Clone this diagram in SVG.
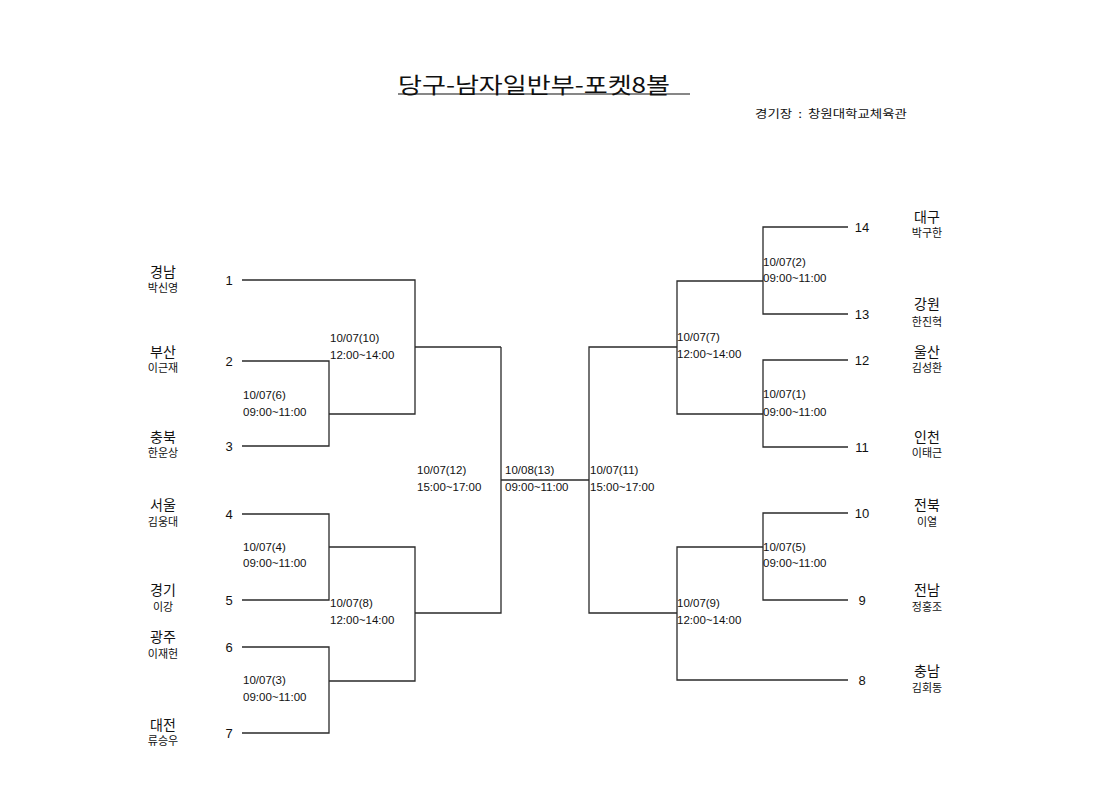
<svg xmlns="http://www.w3.org/2000/svg" width="1120" height="792" viewBox="0 0 1120 792">
<style>
.ln{fill:none;stroke:#2a2a2a;stroke-width:1.3}
text{font-family:"Liberation Sans","Noto Sans CJK KR",sans-serif;fill:#111}
.tm{font-family:"Noto Sans CJK KR","Liberation Sans",sans-serif;font-size:14px;text-anchor:middle}
.pl{font-family:"Noto Sans CJK KR","Liberation Sans",sans-serif;font-size:11px;text-anchor:middle}
.sd{font-size:13px;text-anchor:middle}
.mt{font-size:11.5px}
</style>
<rect width="1120" height="792" fill="#fff"/>
<g id="title">
<text x="398" y="93" font-size="22" textLength="272" lengthAdjust="spacingAndGlyphs" style="font-family:'Noto Sans CJK KR','Liberation Sans',sans-serif">당구-남자일반부-포켓8볼</text>
<line x1="398" y1="94" x2="690" y2="94" stroke="#111" stroke-width="1.2"/>
<text x="755" y="118" style="font-family:'Noto Sans CJK KR','Liberation Sans',sans-serif;font-size:11px;white-space:pre" textLength="152" lengthAdjust="spacingAndGlyphs">경기장  :  창원대학교체육관</text>
</g>
<g id="connectors" class="ln">
<path d="M242,280 H415 V414 H329"/>
<path d="M242,361 H329 V446 H242"/>
<path d="M415,347 H501"/>
<path d="M242,514 H329 V600 H242"/>
<path d="M329,547 H415 V681 H329"/>
<path d="M242,647 H329 V733 H242"/>
<path d="M415,613 H501 V347"/>
<path d="M501,480 H589"/>
<path d="M677,347 H589 V613 H677"/>
<path d="M763,281 H677 V414 H763"/>
<path d="M848,227 H763 V314 H848"/>
<path d="M848,360 H763 V447 H848"/>
<path d="M763,547 H677 V680 H848"/>
<path d="M848,513 H763 V600 H848"/>
</g>
<g id="team1"><text class="tm" x="163" y="277">경남</text><text class="pl" x="163" y="292">박신영</text><text class="sd" x="229" y="285">1</text></g>
<g id="team2"><text class="tm" x="163" y="357">부산</text><text class="pl" x="163" y="372">이근재</text><text class="sd" x="229" y="366">2</text></g>
<g id="team3"><text class="tm" x="163" y="442">충북</text><text class="pl" x="163" y="457">한운상</text><text class="sd" x="229" y="451">3</text></g>
<g id="team4"><text class="tm" x="163" y="510">서울</text><text class="pl" x="163" y="526">김웅대</text><text class="sd" x="229" y="519">4</text></g>
<g id="team5"><text class="tm" x="163" y="595">경기</text><text class="pl" x="163" y="611">이강</text><text class="sd" x="229" y="605">5</text></g>
<g id="team6"><text class="tm" x="163" y="642">광주</text><text class="pl" x="163" y="658">이재헌</text><text class="sd" x="229" y="652">6</text></g>
<g id="team7"><text class="tm" x="163" y="730">대전</text><text class="pl" x="163" y="745">류승우</text><text class="sd" x="229" y="738">7</text></g>
<g id="team14"><text class="tm" x="927" y="222">대구</text><text class="pl" x="927" y="237">박구한</text><text class="sd" x="862" y="232">14</text></g>
<g id="team13"><text class="tm" x="927" y="309">강원</text><text class="pl" x="927" y="326">한진혁</text><text class="sd" x="862" y="319">13</text></g>
<g id="team12"><text class="tm" x="927" y="357">울산</text><text class="pl" x="927" y="372">김성환</text><text class="sd" x="862" y="365">12</text></g>
<g id="team11"><text class="tm" x="927" y="442">인천</text><text class="pl" x="927" y="457">이태근</text><text class="sd" x="862" y="452">11</text></g>
<g id="team10"><text class="tm" x="927" y="510">전북</text><text class="pl" x="927" y="526">이열</text><text class="sd" x="862" y="518">10</text></g>
<g id="team9"><text class="tm" x="927" y="595">전남</text><text class="pl" x="927" y="611">정홍조</text><text class="sd" x="862" y="605">9</text></g>
<g id="team8"><text class="tm" x="927" y="676">충남</text><text class="pl" x="927" y="692">김회동</text><text class="sd" x="862" y="685">8</text></g>
<g id="match10"><text class="mt" x="330" y="342">10/07(10)</text><text class="mt" x="330" y="359">12:00~14:00</text></g>
<g id="match6"><text class="mt" x="243" y="399">10/07(6)</text><text class="mt" x="243" y="416">09:00~11:00</text></g>
<g id="match4"><text class="mt" x="243" y="551">10/07(4)</text><text class="mt" x="243" y="567">09:00~11:00</text></g>
<g id="match8"><text class="mt" x="330" y="607">10/07(8)</text><text class="mt" x="330" y="624">12:00~14:00</text></g>
<g id="match3"><text class="mt" x="243" y="684">10/07(3)</text><text class="mt" x="243" y="701">09:00~11:00</text></g>
<g id="match12"><text class="mt" x="417" y="474">10/07(12)</text><text class="mt" x="417" y="491">15:00~17:00</text></g>
<g id="match13"><text class="mt" x="505" y="474">10/08(13)</text><text class="mt" x="505" y="491">09:00~11:00</text></g>
<g id="match11"><text class="mt" x="590" y="474">10/07(11)</text><text class="mt" x="590" y="491">15:00~17:00</text></g>
<g id="match2"><text class="mt" x="763" y="266">10/07(2)</text><text class="mt" x="763" y="282">09:00~11:00</text></g>
<g id="match7"><text class="mt" x="677" y="341">10/07(7)</text><text class="mt" x="677" y="358">12:00~14:00</text></g>
<g id="match1"><text class="mt" x="763" y="398">10/07(1)</text><text class="mt" x="763" y="416">09:00~11:00</text></g>
<g id="match5"><text class="mt" x="763" y="551">10/07(5)</text><text class="mt" x="763" y="567">09:00~11:00</text></g>
<g id="match9"><text class="mt" x="677" y="607">10/07(9)</text><text class="mt" x="677" y="624">12:00~14:00</text></g>
</svg>
